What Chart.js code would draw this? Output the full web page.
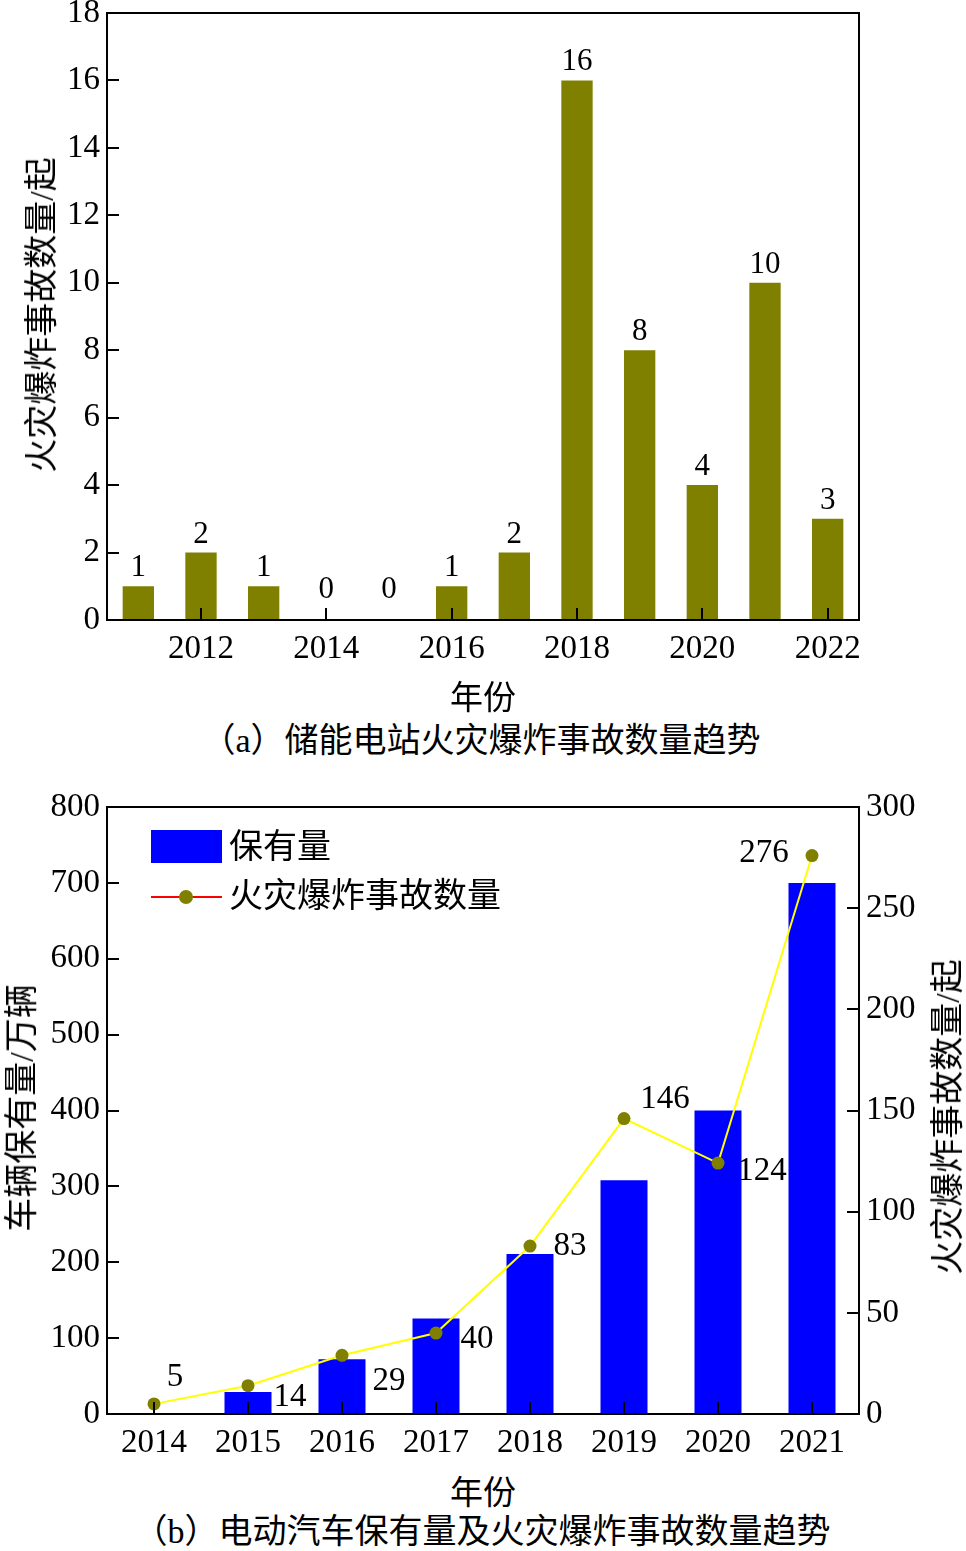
<!DOCTYPE html>
<html>
<head>
<meta charset="utf-8">
<script src="https://cdn.jsdelivr.net/npm/chart.js@4.4.1/dist/chart.umd.min.js"></script>
<style>
  body { margin: 0; width: 966px; height: 1551px; background: #fff; position: relative; overflow: hidden;
         font-family: "Liberation Serif", "Noto Sans CJK SC", serif; color: #000; }
  .t { position: absolute; font-size: 34px; white-space: nowrap; line-height: 1; transform: translate(-50%, -50%); }
  .rot { transform: translate(-50%, -50%) rotate(-90deg); }
  #wrapA { position: absolute; left: 0; top: -20px; width: 966px; height: 700px; }
  #wrapB { position: absolute; left: 0; top: 780px; width: 966px; height: 690px; }
  .legBox { position: absolute; left: 151px; top: 830px; width: 71px; height: 33px; background: #0000ff; }
  .legLine { position: absolute; left: 151px; top: 896px; width: 71px; height: 2px; background: #ff0000; }
  .legDot { position: absolute; left: 179px; top: 890px; width: 14px; height: 14px; border-radius: 50%; background: #808000; }
  .legTxt { position: absolute; left: 229px; font-size: 34px; line-height: 1; transform: translateY(-50%); white-space: nowrap; }
</style>
</head>
<body>
<div id="wrapA"><canvas id="chartA" width="966" height="700"></canvas></div>
<div id="wrapB"><canvas id="chartB" width="966" height="690"></canvas></div>

<div class="t rot" style="left:42px; top:315px;">火灾爆炸事故数量/起</div>
<div class="t" style="left:483px; top:698px; font-size:33px;">年份</div>
<div class="t" style="left:481px; top:741px;">（a）储能电站火灾爆炸事故数量趋势</div>

<div class="t rot" style="left:22px; top:1108px;">车辆保有量/万辆</div>
<div class="t rot" style="left:948px; top:1117px;">火灾爆炸事故数量/起</div>
<div class="t" style="left:483px; top:1493px; font-size:33px;">年份</div>
<div class="t" style="left:482px; top:1532px;">（b）电动汽车保有量及火灾爆炸事故数量趋势</div>

<div class="legBox"></div>
<div class="legTxt" style="top:847px;">保有量</div>
<div class="legLine"></div>
<div class="legDot"></div>
<div class="legTxt" style="top:896px;">火灾爆炸事故数量</div>

<script>
// ----------- DATA -----------
const yearsA = ["2011", "2012", "2013", "2014", "2015", "2016", "2017", "2018", "2019", "2020", "2021", "2022"];
const stationFires = [1, 2, 1, 0, 0, 1, 2, 16, 8, 4, 10, 3];

const yearsB = ["2014", "2015", "2016", "2017", "2018", "2019", "2020", "2021"];
const evStock = [0, 29, 72, 126, 211, 308, 400, 700];      // 万辆
const evFires = [5, 14, 29, 40, 83, 146, 124, 276];        // 起

// label offsets (px) for the line point labels in chart b
const fireLabelDx = [21, 42, 47, 41, 40, 41, 44, -48];
const fireLabelDy = [-27, 12, 26, 6, 0, -19, 8, -2];

const numFont = { family: "'Liberation Serif', serif", size: 33 };
const noGrid = { display: false, drawTicks: false };

// frame + inward tick marks
const frameTicks = {
  id: "frameTicks",
  afterDatasetsDraw(chart) {
    const { ctx, chartArea: a } = chart;
    const L = 12;
    ctx.save();
    ctx.strokeStyle = "#000";
    ctx.lineWidth = 2;
    ctx.beginPath();
    Object.values(chart.scales).forEach(s => {
      s.ticks.forEach((t, i) => {
        if (!t.label) return;
        const p = Math.round(s.getPixelForTick(i));
        if (s.axis === "x") { ctx.moveTo(p, a.bottom); ctx.lineTo(p, a.bottom - L); }
        else if (s.position === "left") { ctx.moveTo(a.left, p); ctx.lineTo(a.left + L, p); }
        else { ctx.moveTo(a.right, p); ctx.lineTo(a.right - L, p); }
      });
    });
    ctx.stroke();
    ctx.strokeRect(a.left, a.top, a.right - a.left, a.bottom - a.top);
    ctx.restore();
  }
};

// ----------- (a) STORAGE STATION FIRES -----------
const barLabels = {
  id: "barLabels",
  afterDatasetsDraw(chart) {
    const ctx = chart.ctx;
    const meta = chart.getDatasetMeta(0);
    const base = chart.scales.y.getPixelForValue(0);
    ctx.save();
    ctx.font = "31px 'Liberation Serif', serif";
    ctx.fillStyle = "#000";
    ctx.textAlign = "center";
    ctx.textBaseline = "alphabetic";
    meta.data.forEach((el, i) => {
      ctx.fillText(String(chart.data.datasets[0].data[i]), el.x, Math.min(el.y, base - 12) - 10);
    });
    ctx.restore();
  }
};

new Chart(document.getElementById("chartA").getContext("2d"), {
  type: "bar",
  data: {
    labels: yearsA,
    datasets: [{
      data: stationFires,
      backgroundColor: "#808000",
      barPercentage: 0.5,
      categoryPercentage: 1
    }]
  },
  options: {
    responsive: false,
    animation: false,
    layout: { padding: { top: 33, right: 107, left: 0, bottom: 0 } },
    plugins: { legend: { display: false }, tooltip: { enabled: false } },
    scales: {
      x: {
        grid: noGrid,
        border: { display: false },
        afterFit: s => { s.height = 60; },
        ticks: {
          autoSkip: false, maxRotation: 0, padding: 10, color: "#000", font: numFont,
          callback: function (v, i) { return i % 2 === 1 ? this.getLabelForValue(v) : ""; }
        }
      },
      y: {
        min: 0, max: 18,
        grid: noGrid,
        border: { display: false },
        afterFit: s => { s.width = 107; },
        ticks: { stepSize: 2, padding: 7, color: "#000", font: numFont }
      }
    }
  },
  plugins: [frameTicks, barLabels]
});

// ----------- (b) EV STOCK + FIRES -----------
const pointLabels = {
  id: "pointLabels",
  afterDatasetsDraw(chart) {
    const ctx = chart.ctx;
    const meta = chart.getDatasetMeta(0);
    ctx.save();
    ctx.font = "33px 'Liberation Serif', serif";
    ctx.fillStyle = "#000";
    ctx.textAlign = "center";
    ctx.textBaseline = "middle";
    meta.data.forEach((el, i) => {
      ctx.fillText(String(evFires[i]), el.x + fireLabelDx[i], el.y + fireLabelDy[i]);
    });
    ctx.restore();
  }
};

new Chart(document.getElementById("chartB").getContext("2d"), {
  type: "bar",
  data: {
    labels: yearsB,
    datasets: [
      {
        type: "line",
        label: "火灾爆炸事故数量",
        data: evFires,
        yAxisID: "y1",
        order: 0,
        borderColor: "#ffff00",
        borderWidth: 2,
        tension: 0,
        pointRadius: 6.5,
        pointBackgroundColor: "#808000",
        pointBorderWidth: 0
      },
      {
        label: "保有量",
        data: evStock,
        yAxisID: "y",
        order: 1,
        backgroundColor: "#0000ff",
        barPercentage: 0.5,
        categoryPercentage: 1
      }
    ]
  },
  options: {
    responsive: false,
    animation: false,
    layout: { padding: { top: 27, right: 0, left: 0, bottom: 0 } },
    plugins: { legend: { display: false }, tooltip: { enabled: false } },
    scales: {
      x: {
        grid: noGrid,
        border: { display: false },
        afterFit: s => { s.height = 56; },
        ticks: { autoSkip: false, maxRotation: 0, padding: 10, color: "#000", font: numFont }
      },
      y: {
        position: "left",
        min: 0, max: 800,
        grid: noGrid,
        border: { display: false },
        afterFit: s => { s.width = 107; },
        ticks: { stepSize: 100, padding: 7, color: "#000", font: numFont }
      },
      y1: {
        position: "right",
        min: 0, max: 300,
        grid: noGrid,
        border: { display: false },
        afterFit: s => { s.width = 107; },
        ticks: { stepSize: 50, padding: 7, color: "#000", font: numFont }
      }
    }
  },
  plugins: [frameTicks, pointLabels]
});
</script>
</body>
</html>
